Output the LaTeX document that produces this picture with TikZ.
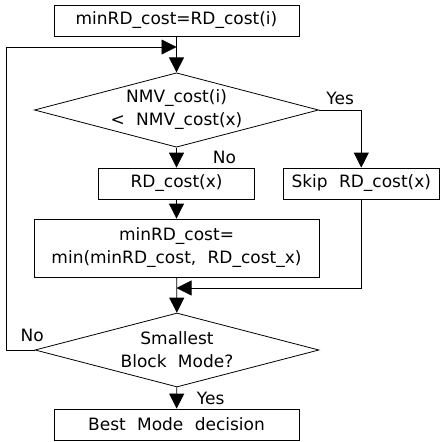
\documentclass[tikz,border=0pt]{standalone}
\usepackage{fontspec}
\setmainfont[WordSpace=2.1]{DejaVu Sans}
\usetikzlibrary{shapes.geometric, arrows.meta, positioning}

\begin{document}
\begin{tikzpicture}[x=1pt, y=-1pt,
    line width=0.8pt,
    >={Triangle[length=15pt, width=15pt]},
    font=\fontsize{17}{23}\selectfont]

\useasboundingbox (0,0) rectangle (440,442);

\node[draw,
    minimum width=245pt,
    minimum height=31pt
] (block0) at (176.5,20.5) {minRD\_cost=RD\_cost(i)};

\node[draw,
    diamond,
    aspect=3.82,
    minimum width=283pt,
    minimum height=74pt,
    align=center,
    inner sep=0] (block1) at (176.5,110) {NMV\_cost(i)\\< NMV\_cost(x)};

\node[draw,
    minimum width=156pt,
    minimum height=31pt
] (block3) at (176.5,183.5) {RD\_cost(x)};

\node[draw,
    right=28pt of block3,
    minimum width=156pt,
    minimum height=31pt
] (block2) {Skip RD\_cost(x)};

\node[draw,
    align=center,
    minimum width=285pt,
    minimum height=58pt
] (block4) at (176.5,248) {minRD\_cost=\\min(minRD\_cost, RD\_cost\_x)};

\node[draw,
    diamond,
    aspect=3.82,
    minimum width=284pt,
    minimum height=74pt,
    align=center,
    inner sep=0] (block5) at (177,350) {Smallest\\Block Mode?};

% Final block
\node[draw,
    minimum width=245pt,
    minimum height=31pt
] (block6) at (176.5,424.5) {Best Mode decision};

% Joins
\coordinate (join1) at (176.5,47);
\coordinate (join2) at (176.5,288);

% Arrows
\draw[->] (block0) edge (block1);
\draw[->] (block3) edge (block4);
\draw[->] (block4) edge (block5);

\draw[->] (block1) edge node[xshift=48pt] {No} (block3);
\draw[->] (block5) edge node[xshift=34pt] {Yes} (block6);
\draw[->] (block1.east) -| node[pos=0.25, above, yshift=2pt] {Yes} (block2.north);
\draw[->] (block2.south) |- (join2);
\draw[->] (block5.west) -- node[above, xshift=12pt, yshift=5pt] {No} (block5.west -| 6,0) |- (join1);

\end{tikzpicture}
\end{document}
